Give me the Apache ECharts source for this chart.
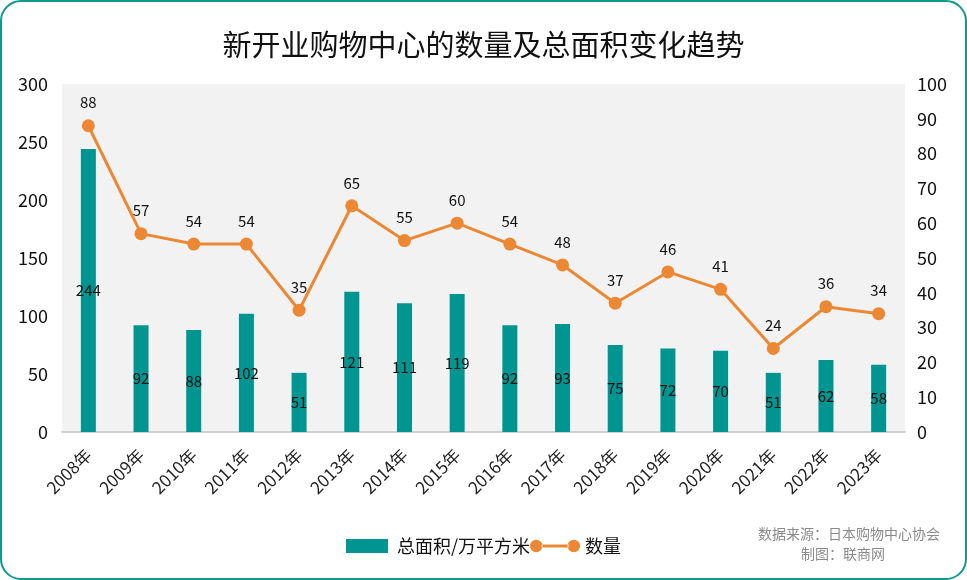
<!DOCTYPE html>
<html><head><meta charset="utf-8">
<script src="https://cdn.jsdelivr.net/npm/echarts@6/dist/echarts.min.js"></script>
<style>html,body{margin:0;padding:0;background:#fff}#c{width:967px;height:580px}</style>
</head><body><div id="c"></div>
<script>
const years = ['2008年','2009年','2010年','2011年','2012年','2013年','2014年','2015年','2016年','2017年','2018年','2019年','2020年','2021年','2022年','2023年'];
const areaValues = [244,92,88,102,51,121,111,119,92,93,75,72,70,51,62,58];
const countValues = [88,57,54,54,35,65,55,60,54,48,37,46,41,24,36,34];
const leftTicks = {min:0,max:300,interval:50};
const rightTicks = {min:0,max:100,interval:10};

const font = '"Noto Sans CJK SC","Noto Sans",sans-serif';
const chart = echarts.init(document.getElementById('c'));
chart.setOption({
  textStyle:{fontFamily:font},
  animation:false,
  title:{text:'新开业购物中心的数量及总面积变化趋势',left:'center',top:25,
    textStyle:{fontSize:29,fontWeight:'normal',color:'#111',fontFamily:font}},
  graphic:[
    {type:'rect',shape:{x:1,y:1,width:965,height:578,r:20},style:{fill:'none',stroke:'#10998f',lineWidth:2},z:-1},
    {type:'text',right:27,top:527,style:{text:'数据来源：日本购物中心协会',fill:'#8a8a8a',font:'14px '+font}},
    {type:'text',left:801,top:547,style:{text:'制图：联商网',fill:'#8a8a8a',font:'14px '+font}}
  ],
  legend:{bottom:20,left:'center',itemGap:0,itemWidth:50,itemHeight:14,
    textStyle:{fontSize:18,color:'#111',fontFamily:font},
    data:[
      {name:'总面积/万平方米',icon:'path://M0,0 L42,0 L42,14 L0,14 Z'},
      {name:'数量',icon:'path://M0,7 A6.5,6.5 0 1,0 13,7 A6.5,6.5 0 1,0 0,7 Z M12,5.5 L40,5.5 L40,8.5 L12,8.5 Z M39,7 A6.5,6.5 0 1,0 52,7 A6.5,6.5 0 1,0 39,7 Z'}
    ]},
  grid:{left:62,right:62,top:84,bottom:148,show:true,backgroundColor:'#f2f2f2',borderWidth:0},
  xAxis:{type:'category',data:years,
    axisLine:{lineStyle:{color:'#d0d0d0',width:2}},axisTick:{show:false},
    axisLabel:{rotate:45,fontSize:17,color:'#222',interval:0,margin:20}},
  yAxis:[
    {type:'value',min:leftTicks.min,max:leftTicks.max,interval:leftTicks.interval,
     splitLine:{show:false},axisLabel:{fontSize:18,color:'#111',margin:14}},
    {type:'value',min:rightTicks.min,max:rightTicks.max,interval:rightTicks.interval,
     splitLine:{show:false},axisLabel:{fontSize:18,color:'#111',margin:12}}
  ],
  series:[
    {name:'总面积/万平方米',type:'bar',data:areaValues,barWidth:15,yAxisIndex:0,
     itemStyle:{color:'#009590'},
     label:{show:true,position:'inside',color:'#111',fontSize:15}},
    {name:'数量',type:'line',data:countValues,yAxisIndex:1,
     symbol:'circle',symbolSize:13,lineStyle:{color:'#ec8834',width:3},itemStyle:{color:'#ec8834'},
     label:{show:true,position:'top',distance:9,color:'#111',fontSize:15}}
  ]
});
</script></body></html>
